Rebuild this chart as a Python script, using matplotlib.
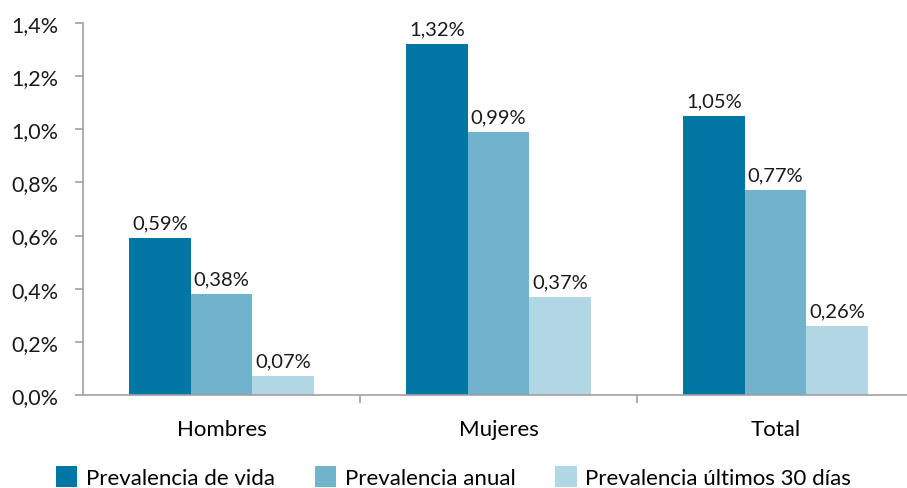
import numpy as np
import matplotlib.pyplot as plt
from matplotlib.ticker import FuncFormatter

plt.rcParams['font.family'] = ['Lato', 'DejaVu Sans']

grupos = ['Hombres', 'Mujeres', 'Total']
series = ['Prevalencia de vida', 'Prevalencia anual', 'Prevalencia últimos 30 días']
vida = [0.59, 1.32, 1.05]
anual = [0.38, 0.99, 0.77]
ult30 = [0.07, 0.37, 0.26]
colores = ['#0076a5', '#71b2cd', '#b1d6e4']

fig = plt.figure(figsize=(9.07, 4.89), dpi=100)
# el eje x sigue un poco más allá del borde derecho
ax = fig.add_axes([83 / 907, 1 - 396 / 489, 831 / 907, (396 - 24) / 489])

x = np.arange(len(grupos))
ancho = 0.222
for i, (vals, nombre) in enumerate(zip([vida, anual, ult30], series)):
    pos = x + (i - 1) * ancho
    ax.bar(pos, vals, ancho, color=colores[i], label=nombre)
    for p, v in zip(pos, vals):
        ax.text(p, v + 0.025, f'{v:.2f}%'.replace('.', ','), ha='center', va='bottom',
                fontsize=14.5, color='#1a1a1a')

ax.set_ylim(0, 1.4)
ax.set_xlim(-0.5, 2.5)
ax.set_yticks(np.arange(0, 1.41, 0.2))
ax.yaxis.set_major_formatter(FuncFormatter(lambda v, _: f'{v:.1f}%'.replace('.', ',')))
ax.set_xticks(x)
ax.set_xticklabels(grupos)
ax.set_xticks([0.5, 1.5], minor=True)
ax.tick_params(axis='x', which='major', length=0, pad=17, labelsize=16)
ax.tick_params(axis='x', which='minor', length=6, color='#a0a0a0', width=1.2)
ax.tick_params(axis='y', length=6, color='#a0a0a0', width=1.2, labelsize=15.5,
               pad=12, labelcolor='#1a1a1a')

for lado in ['top', 'right']:
    ax.spines[lado].set_visible(False)
for lado in ['left', 'bottom']:
    ax.spines[lado].set_color('#a0a0a0')
    ax.spines[lado].set_linewidth(1.2)

fig.legend(loc='lower center', bbox_to_anchor=(0.5, -0.041), ncol=3, frameon=False,
           fontsize=16, handlelength=0.95, handleheight=1.1, handletextpad=0.4,
           columnspacing=1.8)

fig.savefig('out.png', dpi=100)
